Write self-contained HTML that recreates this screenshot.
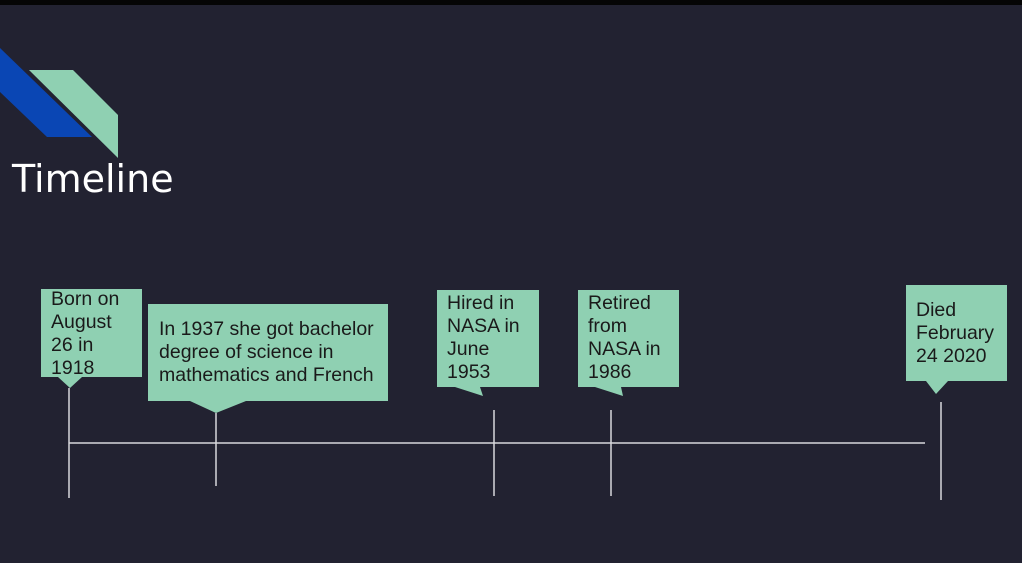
<!DOCTYPE html>
<html><head><style>
body{margin:0;width:1022px;height:563px;background:#222231;position:relative;overflow:hidden;font-family:"Liberation Sans",Arial,sans-serif}
.top{position:absolute;left:0;top:0;width:1022px;height:5px;background:#050505}
.t{position:absolute;font-size:19.5px;line-height:23px;color:#1a1a1a}
.title{position:absolute;left:12px;top:157px;font-size:38px;color:#fff;font-family:"DejaVu Sans","Liberation Sans",sans-serif;}
</style></head><body>
<div class="top"></div>
<svg width="1022" height="563" style="position:absolute;left:0;top:0">
<polygon points="0,48 92,137 47,137 0,92" fill="#0a46b4"/>
<polygon points="29,70 73,70 118,115 118,158" fill="#8fd0b2"/>
<g fill="#8fd0b2">
<polygon points="41,289 142,289 142,377 82,377 70,388 58,377 41,377"/>
<polygon points="148,304 388,304 388,401 246,401 216,413 190,401 148,401"/>
<polygon points="437,290 539,290 539,387 480,387 483,396 455,387 437,387"/>
<polygon points="578,290 679,290 679,387 621,387 623,396 595,387 578,387"/>
<polygon points="906,285 1007,285 1007,381 948,381 936,394 926,381 906,381"/>
</g>
<g stroke="#d8d8dc" stroke-width="1.5">
<line x1="69" y1="443" x2="925" y2="443"/>
<line x1="69" y1="388" x2="69" y2="498"/>
<line x1="216" y1="413" x2="216" y2="486"/>
<line x1="494" y1="410" x2="494" y2="496"/>
<line x1="611" y1="410" x2="611" y2="496"/>
<line x1="941" y1="402" x2="941" y2="500"/>
</g>
</svg>
<div class="title">Timeline</div>
<div class="t" style="left:51px;top:288px">Born on<br>August<br>26 in<br>1918</div>
<div class="t" style="left:159px;top:318px">In 1937 she got bachelor<br>degree of science in<br>mathematics and French</div>
<div class="t" style="left:447px;top:292px">Hired in<br>NASA in<br>June<br>1953</div>
<div class="t" style="left:588px;top:292px">Retired<br>from<br>NASA in<br>1986</div>
<div class="t" style="left:916px;top:299px">Died<br>February<br>24 2020</div>
</body></html>
